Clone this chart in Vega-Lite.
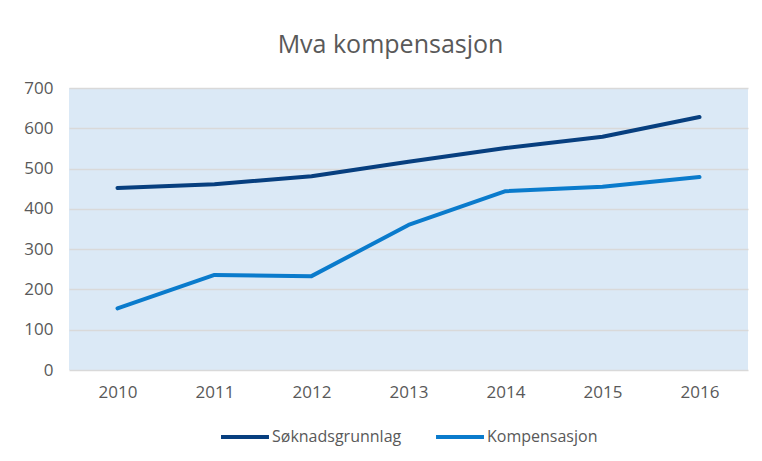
{
  "$schema": "https://vega.github.io/schema/vega-lite/v6.json",
  "width": 679,
  "height": 282,
  "autosize": {"type": "none"},
  "padding": {"left": 69, "top": 88, "right": 14, "bottom": 91},
  "background": "white",
  "title": {
    "text": "Mva kompensasjon",
    "font": "Open Sans",
    "fontSize": 25,
    "fontWeight": "normal",
    "color": "#595959",
    "anchor": "middle",
    "dx": -18,
    "offset": 21
  },
  "data": {
    "values": [
      {"year": "2010", "series": "Søknadsgrunnlag", "value": 452},
      {"year": "2011", "series": "Søknadsgrunnlag", "value": 461},
      {"year": "2012", "series": "Søknadsgrunnlag", "value": 481},
      {"year": "2013", "series": "Søknadsgrunnlag", "value": 517},
      {"year": "2014", "series": "Søknadsgrunnlag", "value": 551},
      {"year": "2015", "series": "Søknadsgrunnlag", "value": 579},
      {"year": "2016", "series": "Søknadsgrunnlag", "value": 628},
      {"year": "2010", "series": "Kompensasjon", "value": 153},
      {"year": "2011", "series": "Kompensasjon", "value": 236},
      {"year": "2012", "series": "Kompensasjon", "value": 233},
      {"year": "2013", "series": "Kompensasjon", "value": 360},
      {"year": "2014", "series": "Kompensasjon", "value": 444},
      {"year": "2015", "series": "Kompensasjon", "value": 455},
      {"year": "2016", "series": "Kompensasjon", "value": 479}
    ]
  },
  "mark": {"type": "line", "strokeWidth": 4, "strokeCap": "round", "strokeJoin": "round"},
  "encoding": {
    "x": {
      "field": "year",
      "type": "ordinal",
      "scale": {"type": "point", "padding": 0.5},
      "axis": {
        "title": null,
        "labelAngle": 0,
        "ticks": false,
        "domain": false,
        "grid": false,
        "labelFont": "Open Sans",
        "labelFontSize": 17,
        "labelColor": "#595959",
        "labelPadding": 14
      }
    },
    "y": {
      "field": "value",
      "type": "quantitative",
      "scale": {"domain": [0, 700], "nice": false},
      "axis": {
        "title": null,
        "values": [0, 100, 200, 300, 400, 500, 600, 700],
        "ticks": false,
        "domain": false,
        "gridColor": "#d9d9d9",
        "gridWidth": 1.5,
        "labelFont": "Open Sans",
        "labelFontSize": 17,
        "labelColor": "#595959",
        "labelPadding": 16
      }
    },
    "color": {
      "field": "series",
      "type": "nominal",
      "sort": ["Søknadsgrunnlag", "Kompensasjon"],
      "scale": {"domain": ["Søknadsgrunnlag", "Kompensasjon"], "range": ["#073f7f", "#0a7bcc"]},
      "legend": {
        "title": null,
        "orient": "bottom",
        "direction": "horizontal",
        "symbolType": "stroke",
        "symbolSize": 2300,
        "symbolStrokeWidth": 4,
        "labelFont": "Open Sans",
        "labelFontSize": 16,
        "labelColor": "#595959",
        "labelOffset": 1,
        "columnPadding": 26,
        "offset": 11
      }
    }
  },
  "config": {
    "view": {"fill": "#dbe9f6", "stroke": null},
    "legend": {"layout": {"bottom": {"anchor": "middle"}}}
  }
}
